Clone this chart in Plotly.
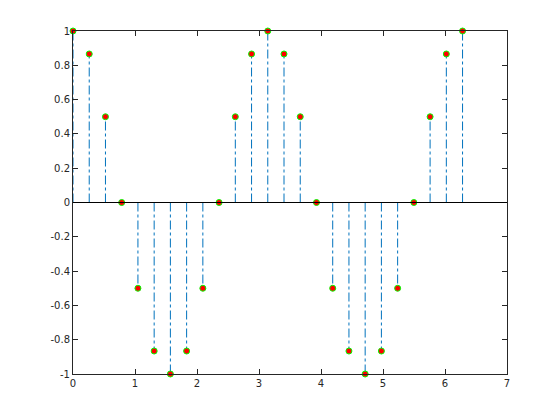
import plotly.graph_objects as go

x_vals = [0.0, 0.2618, 0.5236, 0.7854, 1.0472, 1.3090, 1.5708, 1.8326, 2.0944,
          2.3562, 2.6180, 2.8798, 3.1416, 3.4034, 3.6652, 3.9270, 4.1888, 4.4506,
          4.7124, 4.9742, 5.2360, 5.4978, 5.7596, 6.0214, 6.2832]
y_vals = [1.0, 0.866, 0.5, 0.0, -0.5, -0.866, -1.0, -0.866, -0.5,
          0.0, 0.5, 0.866, 1.0, 0.866, 0.5, 0.0, -0.5, -0.866,
          -1.0, -0.866, -0.5, 0.0, 0.5, 0.866, 1.0]
x_ticks = [0, 1, 2, 3, 4, 5, 6, 7]
y_ticks = [-1, -0.8, -0.6, -0.4, -0.2, 0, 0.2, 0.4, 0.6, 0.8, 1]

stem_x, stem_y = [], []
for xv, yv in zip(x_vals, y_vals):
    stem_x += [xv, xv, None]
    stem_y += [0, yv, None]

fig = go.Figure()
fig.add_trace(go.Scatter(x=stem_x, y=stem_y, mode="lines",
                         line=dict(color="#0072BD", width=1, dash="dashdot"),
                         hoverinfo="skip", showlegend=False))
fig.add_shape(type="line", xref="paper", yref="y", x0=0, x1=1, y0=0, y1=0,
              line=dict(color="#000000", width=1))
fig.add_trace(go.Scatter(x=x_vals, y=y_vals, mode="markers", cliponaxis=False,
                         marker=dict(symbol="circle", size=6, color="#FF0000",
                                     line=dict(color="#00FF00", width=1)),
                         showlegend=False))

axis_common = dict(showgrid=False, zeroline=False, showline=True, mirror="ticks",
                   linecolor="#262626", linewidth=1, ticks="inside", ticklen=5,
                   tickcolor="#262626", tickfont=dict(family="DejaVu Sans", size=10, color="#262626"))
fig.update_xaxes(range=[0, 7], tickvals=x_ticks, ticktext=[str(t) for t in x_ticks], **axis_common)
fig.update_yaxes(range=[-1, 1], tickvals=y_ticks,
                 ticktext=[("%g" % t) for t in y_ticks], **axis_common)
fig.update_layout(width=560, height=420, margin=dict(l=65, r=61, t=23, b=54),
                  paper_bgcolor="white", plot_bgcolor="white")
fig.write_html("out.html")
